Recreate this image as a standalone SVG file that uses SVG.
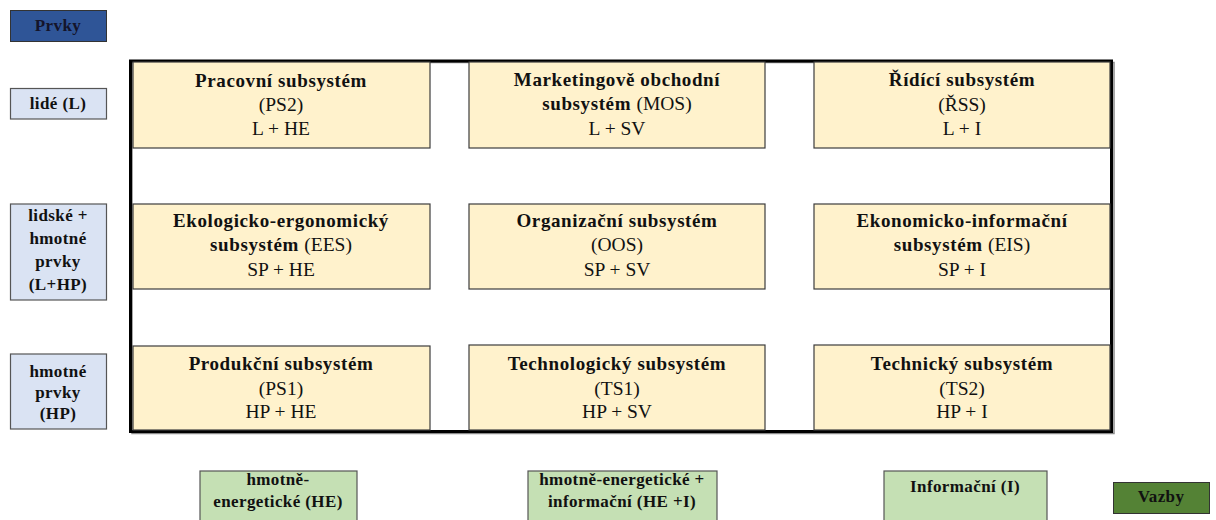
<svg xmlns="http://www.w3.org/2000/svg" width="1216" height="520" viewBox="0 0 1216 520">
<style>
text{font-family:"Liberation Serif","Times New Roman",serif;text-anchor:middle;fill:#111}
.b{font-weight:bold}
.t{font-size:19px;letter-spacing:0.6px}
.r{font-size:19.5px;font-weight:normal;letter-spacing:0}
.l{font-size:17px;font-weight:bold;letter-spacing:0.4px}
.sub{fill:#FFF2CC;stroke:#3c3c3c;stroke-width:1.2}
.el{fill:#DAE3F3;stroke:#555;stroke-width:1.2}
.gr{fill:#C5E0B4;stroke:#555;stroke-width:1.2}
</style>
<rect width="1216" height="520" fill="#fff"/>
<g id="frame">
<rect x="132" y="62.5" width="982" height="371" fill="none" stroke="#8a8a8a" stroke-width="1.5"/>
<rect x="130.5" y="61" width="981" height="370.5" fill="none" stroke="#000" stroke-width="3"/>
</g>
<g id="prvky"><rect x="10.5" y="10.5" width="96" height="31" fill="#2F5597" stroke="#333"/><text class="l" x="58" y="31" style="fill:#14142a">Prvky</text></g>
<g id="lide"><rect class="el" x="10.5" y="88.5" width="96" height="30.5"/><text class="l" x="58" y="109">lidé (L)</text></g>
<g id="lidske"><rect class="el" x="10.5" y="204" width="96" height="96"/><text class="l" x="58"><tspan x="58" y="221">lidské +</tspan><tspan x="58" y="244">hmotné</tspan><tspan x="58" y="267">prvky</tspan><tspan x="58" y="290">(L+HP)</tspan></text></g>
<g id="hmotne"><rect class="el" x="10.5" y="354" width="96" height="75"/><text class="l" x="58"><tspan x="58" y="377">hmotné</tspan><tspan x="58" y="398">prvky</tspan><tspan x="58" y="419">(HP)</tspan></text></g>

<g id="ps2"><rect class="sub" x="133" y="62" width="297" height="86"/><text class="b t" x="281" y="87">Pracovní subsystém</text><text class="r" x="281" y="111">(PS2)</text><text class="r" x="281" y="135">L + HE</text></g>
<g id="mos"><rect class="sub" x="469" y="62" width="296" height="86"/><text class="b t" x="617" y="86">Marketingově obchodní</text><text x="617" y="110" class="b t">subsystém <tspan class="r">(MOS)</tspan></text><text class="r" x="617" y="135">L + SV</text></g>
<g id="rss"><rect class="sub" x="814" y="62" width="296" height="86"/><text class="b t" x="962" y="86">Řídící subsystém</text><text class="r" x="962" y="111">(ŘSS)</text><text class="r" x="962" y="135">L + I</text></g>

<g id="ees"><rect class="sub" x="133" y="204" width="297" height="85"/><text class="b t" x="281" y="227">Ekologicko-ergonomický</text><text x="281" y="251" class="b t">subsystém <tspan class="r">(EES)</tspan></text><text class="r" x="281" y="276">SP + HE</text></g>
<g id="oos"><rect class="sub" x="469" y="204" width="296" height="85"/><text class="b t" x="617" y="227">Organizační subsystém</text><text class="r" x="617" y="251">(OOS)</text><text class="r" x="617" y="276">SP + SV</text></g>
<g id="eis"><rect class="sub" x="814" y="204" width="296" height="85"/><text class="b t" x="962" y="227">Ekonomicko-informační</text><text x="962" y="251" class="b t">subsystém <tspan class="r">(EIS)</tspan></text><text class="r" x="962" y="276">SP + I</text></g>

<g id="ps1"><rect class="sub" x="133" y="346" width="297" height="84"/><text class="b t" x="281" y="370">Produkční subsystém</text><text class="r" x="281" y="395">(PS1)</text><text class="r" x="281" y="418">HP + HE</text></g>
<g id="ts1"><rect class="sub" x="469" y="345" width="296" height="85"/><text class="b t" x="617" y="370">Technologický subsystém</text><text class="r" x="617" y="395">(TS1)</text><text class="r" x="617" y="418">HP + SV</text></g>
<g id="ts2"><rect class="sub" x="814" y="345" width="296" height="85"/><text class="b t" x="962" y="370">Technický subsystém</text><text class="r" x="962" y="395">(TS2)</text><text class="r" x="962" y="418">HP + I</text></g>

<g id="he"><rect class="gr" x="200" y="471" width="157" height="60"/><text class="l"><tspan x="278" y="485">hmotně-</tspan><tspan x="278" y="507">energetické (HE)</tspan></text></g>
<g id="hei"><rect class="gr" x="528" y="471" width="189" height="60"/><text class="l"><tspan x="622" y="485">hmotně-energetické +</tspan><tspan x="622" y="507">informační (HE +I)</tspan></text></g>
<g id="inf"><rect class="gr" x="884" y="471" width="163" height="60"/><text class="l" x="965" y="492">Informační (I)</text></g>
<g id="vazby"><rect x="1113.5" y="482.5" width="96" height="31" fill="#548235" stroke="#333"/><text class="l" x="1161" y="502">Vazby</text></g>
<g id="connectors"/>
</svg>
